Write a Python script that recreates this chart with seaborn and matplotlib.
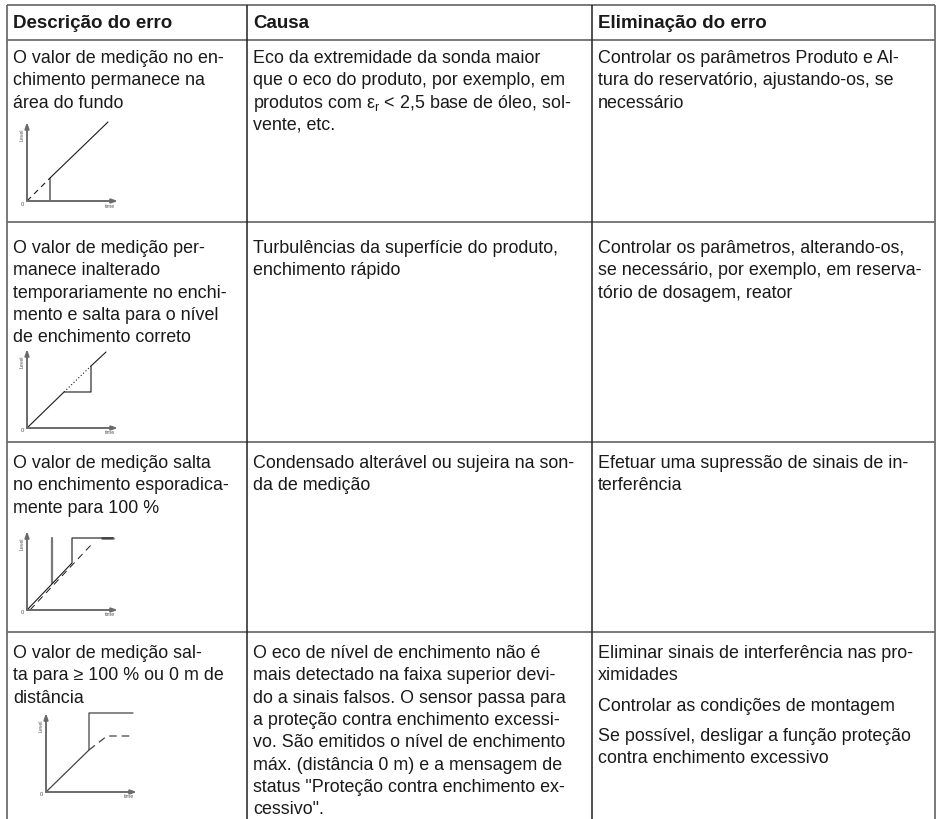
import numpy as np
import pandas as pd
import matplotlib
matplotlib.use('Agg')
import matplotlib.pyplot as plt
import seaborn as sns

sns.set_style('white')
plt.rcParams['font.family'] = ['Liberation Sans', 'DejaVu Sans']
plt.rcParams['mathtext.fontset'] = 'custom'
plt.rcParams['mathtext.rm'] = 'Liberation Sans'
plt.rcParams['mathtext.it'] = 'Liberation Sans'

W, H = 937, 819

# table text
headers = ['Descrição do erro', 'Causa', 'Eliminação do erro']

row1_desc = ['O valor de medição no en-', 'chimento permanece na', 'área do fundo']
row1_cause = ['Eco da extremidade da sonda maior',
              'que o eco do produto, por exemplo, em',
              r'produtos com $ε_{\mathrm{r}}$ < 2,5 base de óleo, sol-',
              'vente, etc.']
row1_fix = [['Controlar os parâmetros Produto e Al-',
             'tura do reservatório, ajustando-os, se', 'necessário']]

row2_desc = ['O valor de medição per-', 'manece inalterado', 'temporariamente no enchi-',
             'mento e salta para o nível', 'de enchimento correto']
row2_cause = ['Turbulências da superfície do produto,', 'enchimento rápido']
row2_fix = [['Controlar os parâmetros, alterando-os,',
             'se necessário, por exemplo, em reserva-', 'tório de dosagem, reator']]

row3_desc = ['O valor de medição salta', 'no enchimento esporadica-', 'mente para 100 %']
row3_cause = ['Condensado alterável ou sujeira na son-', 'da de medição']
row3_fix = [['Efetuar uma supressão de sinais de in-', 'terferência']]

row4_desc = ['O valor de medição sal-', 'ta para ≥ 100 % ou 0 m de', 'distância']
row4_cause = ['O eco de nível de enchimento não é',
              'mais detectado na faixa superior devi-',
              'do a sinais falsos. O sensor passa para',
              'a proteção contra enchimento excessi-',
              'vo. São emitidos o nível de enchimento',
              'máx. (distância 0 m) e a mensagem de',
              'status "Proteção contra enchimento ex-',
              'cessivo".']
row4_fix = [['Eliminar sinais de interferência nas pro-', 'ximidades'],
            ['Controlar as condições de montagem'],
            ['Se possível, desligar a função proteção', 'contra enchimento excessivo']]

rows = [(row1_desc, row1_cause, row1_fix),
        (row2_desc, row2_cause, row2_fix),
        (row3_desc, row3_cause, row3_fix),
        (row4_desc, row4_cause, row4_fix)]

# mini chart series (time, level)
c1_solid_t = [23, 23, 81]
c1_solid_lv = [0, 23, 79]
c1_dash_t = [0, 23]
c1_dash_lv = [0, 23]

c2_solid_t = [0, 37, 64, 64, 79]
c2_solid_lv = [0, 36, 36, 62, 76]
c2_dot_t = [37, 64]
c2_dot_lv = [36, 62]

c3_solid_t = [0, 45, 45, 86]
c3_solid_lv = [0, 47, 72, 72]
c3_dash_t = [3, 64]
c3_dash_lv = [0, 65]
c3_spike_t = [25, 25]
c3_spike_lv = [27, 72]
c3_end_t = [75, 86]
c3_end_lv = [72, 72]

c4_solid_t = [0, 43, 43, 87]
c4_solid_lv = [0, 42, 79, 79]
c4_dash_t = [43, 61, 87]
c4_dash_lv = [42, 56, 56]

# layout in pixels
col_x = [7, 247, 592, 935]
row_y = [5, 40, 222, 442, 632]
first_base = [63, 253, 468, 658]
line_h = 22.3
para_gap = 8
fs = 17.9 * 72 / 100
fs_head = 18.8 * 72 / 100
chart_origin = [(27, 201), (27, 428), (27, 610), (46, 792)]

fig = plt.figure(figsize=(W / 100, H / 100), dpi=100)
ax = fig.add_axes([0, 0, 1, 1])
ax.set_xlim(0, W)
ax.set_ylim(H, 0)
ax.axis('off')

line_col = '#6e6e6e'
ax.hlines(row_y, col_x[0], col_x[-1], color=line_col, lw=1.3)
ax.vlines([col_x[0], col_x[-1]], row_y[0], H, color=line_col, lw=1.3)
ax.vlines(col_x[1:3], row_y[0], H, color='#222222', lw=1.1)

for j, h in enumerate(headers):
    ax.text(col_x[j] + 6, 28, h, fontsize=fs_head, fontweight='bold', va='baseline', color='#1a1a1a')

for i, (desc, cause, fix) in enumerate(rows):
    y0 = first_base[i]
    for k, s in enumerate(desc):
        ax.text(col_x[0] + 6, y0 + k * line_h, s, fontsize=fs, va='baseline', color='#1a1a1a')
    for k, s in enumerate(cause):
        ax.text(col_x[1] + 6, y0 + k * line_h, s, fontsize=fs, va='baseline', color='#1a1a1a')
    y = y0
    for para in fix:
        for s in para:
            ax.text(col_x[2] + 6, y, s, fontsize=fs, va='baseline', color='#1a1a1a')
            y += line_h
        y += para_gap


def mini_chart(origin, series):
    ox, oy = origin
    w, h = 94, 82
    cax = fig.add_axes([ox / W, 1 - oy / H, w / W, h / H])
    cax.set_xlim(0, w)
    cax.set_ylim(0, h)
    cax.axis('off')
    axis_col = '#6a6a6a'
    cax.annotate('', xy=(91, 0), xytext=(0, 0),
                 arrowprops=dict(arrowstyle='-|>,head_length=0.35,head_width=0.12',
                                 color=axis_col, lw=1.4, shrinkA=0, shrinkB=0))
    cax.annotate('', xy=(0, 79), xytext=(0, 0),
                 arrowprops=dict(arrowstyle='-|>,head_length=0.35,head_width=0.12',
                                 color=axis_col, lw=1.4, shrinkA=0, shrinkB=0))
    for t, lv, style in series:
        df = pd.DataFrame({'time': t, 'level': lv})
        sns.lineplot(data=df, x='time', y='level', sort=False, estimator=None,
                     ax=cax, legend=False, **style)
    cax.set_xlabel('')
    cax.set_ylabel('')
    ax.text(ox - 5, oy - 66, 'Level', fontsize=3.8, rotation=90, ha='center', va='center', color='#555555')
    ax.text(ox - 5, oy + 3, '0', fontsize=4.2, ha='center', va='center', color='#555555')
    ax.text(ox + 83, oy + 5, 'time', fontsize=3.8, ha='center', va='center', color='#555555')


solid = dict(color='#1a1a1a', lw=0.8)
mini_chart(chart_origin[0], [
    (c1_solid_t, c1_solid_lv, solid),
    (c1_dash_t, c1_dash_lv, dict(color='#1a1a1a', lw=0.8, dashes=(5, 4))),
])
mini_chart(chart_origin[1], [
    (c2_solid_t, c2_solid_lv, solid),
    (c2_dot_t, c2_dot_lv, dict(color='#1a1a1a', lw=0.8, dashes=(1, 2))),
])
mini_chart(chart_origin[2], [
    (c3_spike_t, c3_spike_lv, dict(color='#7a7a7a', lw=1.6)),
    (c3_end_t, c3_end_lv, dict(color='#7a7a7a', lw=2.0)),
    (c3_dash_t, c3_dash_lv, dict(color='#1a1a1a', lw=0.7, dashes=(7, 5))),
    (c3_solid_t, c3_solid_lv, solid),
])
mini_chart(chart_origin[3], [
    (c4_solid_t, c4_solid_lv, dict(color='#444444', lw=0.9)),
    (c4_dash_t, c4_dash_lv, dict(color='#444444', lw=0.9, dashes=(6, 4))),
])

fig.savefig('out.png', dpi=100, facecolor='white')
